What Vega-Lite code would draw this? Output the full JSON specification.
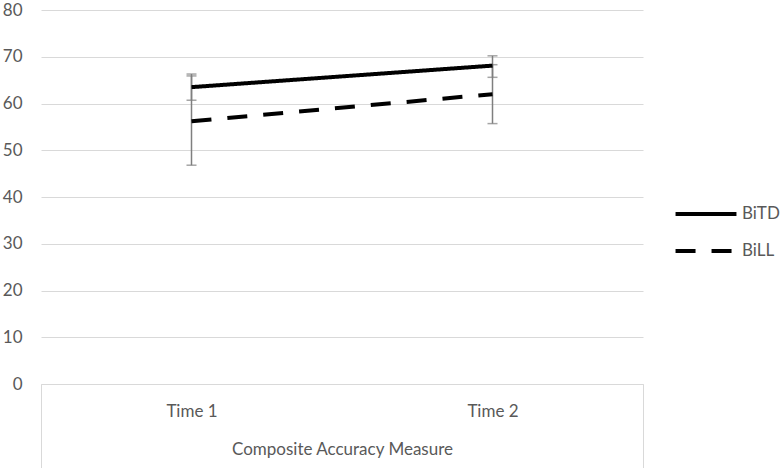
{
  "$schema": "https://vega.github.io/schema/vega-lite/v6.json",
  "width": 602,
  "height": 374,
  "autosize": "none",
  "padding": {"left": 41, "top": 10, "right": 138, "bottom": 84},
  "background": "white",
  "data": {"values": [
    {"time": "Time 1", "group": "BiTD", "mean": 63.5, "lower": 60.7, "upper": 66.3},
    {"time": "Time 2", "group": "BiTD", "mean": 68.1, "lower": 65.6, "upper": 70.2},
    {"time": "Time 1", "group": "BiLL", "mean": 56.2, "lower": 46.8, "upper": 65.9},
    {"time": "Time 2", "group": "BiLL", "mean": 62.0, "lower": 55.7, "upper": 68.3}
  ]},
  "encoding": {
    "x": {
      "field": "time", "type": "nominal",
      "scale": {"type": "band", "paddingInner": 0, "paddingOuter": 0},
      "axis": {
        "title": "Composite Accuracy Measure",
        "labelAngle": 0,
        "labelFont": "Lato", "labelFontSize": 17, "labelColor": "#595959",
        "labelPadding": -57, "labelBaseline": "middle",
        "tickBand": "extent",
        "tickSize": 84, "tickWidth": 1,
        "tickColor": {"condition": {"test": "datum.index === 0", "value": "transparent"}, "value": "#d9d9d9"},
        "domainColor": "#d9d9d9", "domainWidth": 1,
        "titleFont": "Lato", "titleFontSize": 17, "titleFontWeight": "normal", "titleColor": "#595959",
        "titleBaseline": "middle", "titleY": 65
      }
    }
  },
  "layer": [
    {
      "mark": {"type": "rule", "color": "#7f7f7f", "strokeWidth": 1.5},
      "encoding": {
        "y": {"field": "lower", "type": "quantitative"},
        "y2": {"field": "upper"}
      }
    },
    {
      "mark": {"type": "tick", "color": "#7f7f7f", "size": 10, "thickness": 1.5, "orient": "horizontal"},
      "encoding": {"y": {"field": "upper", "type": "quantitative"}}
    },
    {
      "mark": {"type": "tick", "color": "#7f7f7f", "size": 10, "thickness": 1.5, "orient": "horizontal"},
      "encoding": {"y": {"field": "lower", "type": "quantitative"}}
    },
    {
      "mark": {"type": "line", "strokeWidth": 4},
      "encoding": {
        "y": {
          "field": "mean", "type": "quantitative",
          "scale": {"domain": [0, 80], "nice": false},
          "axis": {
            "title": null, "values": [0, 10, 20, 30, 40, 50, 60, 70, 80],
            "ticks": false, "domain": false,
            "labelFont": "Lato", "labelFontSize": 17, "labelColor": "#595959",
            "labelPadding": 19,
            "gridColor": "#d9d9d9", "gridWidth": 1
          }
        },
        "color": {
          "field": "group", "type": "nominal",
          "scale": {"domain": ["BiTD", "BiLL"], "range": ["#000000", "#000000"]},
          "legend": {"title": null}
        },
        "strokeDash": {
          "field": "group", "type": "nominal",
          "scale": {"domain": ["BiTD", "BiLL"], "range": [[1, 0], [20, 16]]},
          "legend": {"title": null}
        }
      }
    }
  ],
  "config": {
    "view": {"stroke": null},
    "axis": {"gridColor": "#d9d9d9"},
    "axisX": {"grid": false},
    "legend": {
      "orient": "none",
      "legendX": 655,
      "legendY": 194,
      "padding": 0,
      "symbolType": "M-4,0H4",
      "symbolSize": 232,
      "symbolStrokeWidth": 4,
      "symbolStrokeColor": "#000000",
      "symbolFillColor": "transparent",
      "labelOffset": 26,
      "labelFont": "Lato", "labelFontSize": 17, "labelColor": "#595959",
      "rowPadding": 19
    }
  }
}
